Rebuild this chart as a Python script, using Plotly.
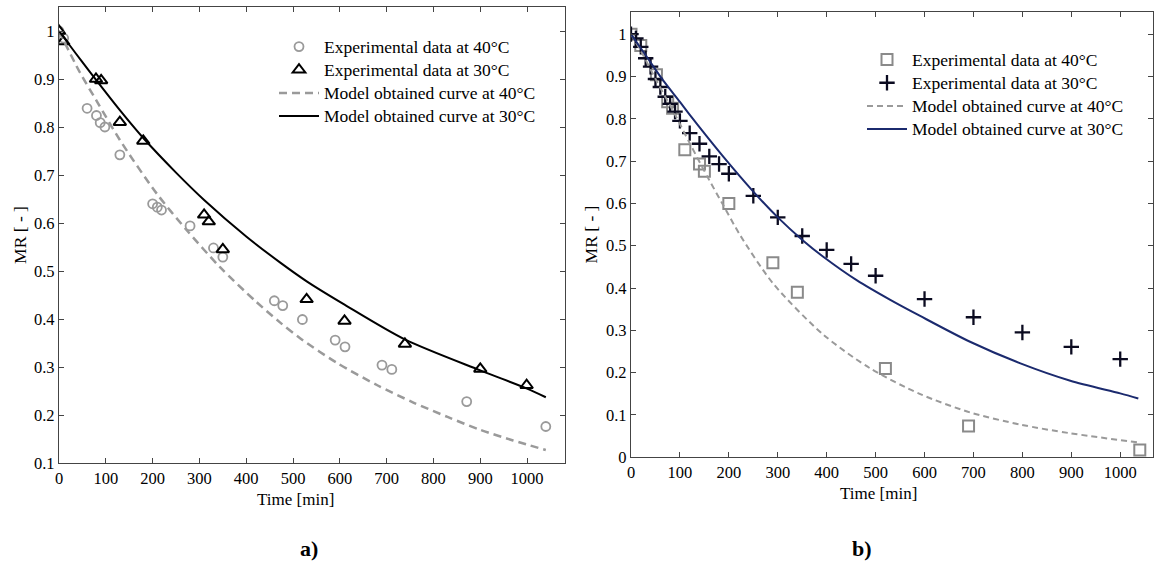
import plotly.graph_objects as go

# ---------------- Panel a) data ----------------
a_t40 = [0, 10, 60, 80, 88, 98, 130, 200, 210, 219, 280, 330, 350, 460, 478, 520, 590, 611, 690, 711, 871, 1040]
a_mr40 = [1.0, 0.985, 0.839, 0.824, 0.809, 0.80, 0.742, 0.64, 0.633, 0.627, 0.594, 0.548, 0.529, 0.438, 0.428,
          0.399, 0.356, 0.342, 0.304, 0.295, 0.228, 0.176]
a_t30 = [0, 9, 79, 90, 130, 180, 310, 320, 350, 529, 610, 739, 900, 999]
a_mr30 = [1.0, 0.978, 0.9, 0.897, 0.81, 0.771, 0.617, 0.603, 0.545, 0.441, 0.396, 0.348, 0.296, 0.262]
a_model40_t = [0, 45, 80, 130, 209, 273, 344, 420, 472, 515, 593, 680, 757, 830, 900, 970, 1040]
a_model40_mr = [1.0, 0.913, 0.855, 0.773, 0.661, 0.585, 0.508, 0.437, 0.393, 0.36, 0.309, 0.262, 0.226, 0.196,
                0.169, 0.147, 0.127]
a_model30_t = [0, 20, 50, 80, 130, 180, 250, 310, 400, 472, 530, 610, 740, 900, 1000, 1040]
a_model30_mr = [1.0, 0.974, 0.935, 0.897, 0.835, 0.777, 0.705, 0.648, 0.572, 0.518, 0.478, 0.43, 0.357,
                0.293, 0.255, 0.237]

# ---------------- Panel b) data ----------------
b_t40 = [0, 20, 52, 75, 85, 110, 140, 150, 200, 290, 340, 520, 690, 1040]
b_mr40 = [1.0, 0.973, 0.904, 0.84, 0.825, 0.727, 0.693, 0.676, 0.6, 0.46, 0.39, 0.21, 0.074, 0.017]
b_t30 = [0, 10, 20, 30, 40, 50, 60, 70, 80, 90, 100, 120, 140, 160, 180, 200, 250, 300, 350, 400, 450, 500,
         600, 700, 800, 900, 1000]
b_mr30 = [1.0, 0.99, 0.97, 0.943, 0.923, 0.894, 0.875, 0.852, 0.835, 0.817, 0.795, 0.766, 0.741, 0.711, 0.693,
          0.67, 0.618, 0.567, 0.523, 0.49, 0.457, 0.429, 0.374, 0.331, 0.295, 0.261, 0.232]
b_model40_t = [0, 25, 52, 90, 121, 160, 189, 223, 291, 393, 489, 590, 693, 797, 897, 1037]
b_model40_mr = [1.0, 0.95, 0.89, 0.81, 0.74, 0.655, 0.595, 0.525, 0.41, 0.29, 0.21, 0.15, 0.106, 0.077, 0.057, 0.035]
b_model30_t = [0, 30, 63, 100, 121, 189, 250, 300, 352, 393, 462, 530, 591, 693, 796, 898, 1000, 1037]
b_model30_mr = [1.0, 0.95, 0.895, 0.84, 0.808, 0.71, 0.628, 0.567, 0.512, 0.474, 0.418, 0.372, 0.334, 0.273,
                0.222, 0.181, 0.151, 0.139]

a_yticks = [0.1, 0.2, 0.3, 0.4, 0.5, 0.6, 0.7, 0.8, 0.9, 1.0]
a_yticktext = ["0.1", "0.2", "0.3", "0.4", "0.5", "0.6", "0.7", "0.8", "0.9", "1"]
b_yticks = [0, 0.1, 0.2, 0.3, 0.4, 0.5, 0.6, 0.7, 0.8, 0.9, 1.0]
b_yticktext = ["0", "0.1", "0.2", "0.3", "0.4", "0.5", "0.6", "0.7", "0.8", "0.9", "1"]
xticks = [0, 100, 200, 300, 400, 500, 600, 700, 800, 900, 1000]

labels = ["Experimental data at 40°C", "Experimental data at 30°C",
          "Model obtained curve at 40°C", "Model obtained curve at 30°C"]
x_title = "Time [min]"
y_title = "MR [ - ]"

FONT = "Liberation Serif, Times New Roman, serif"
W, H = 1157, 565
GRAY = "#9a9a9a"


def lab(s):
    return '<span style="font-size:17.5px">' + s + '</span>'


fig = go.Figure()

# Panel a
fig.add_trace(go.Scatter(x=a_t40, y=a_mr40, mode="markers", name=lab(labels[0]), legend="legend",
                         marker=dict(symbol="circle-open", size=9, color=GRAY, line=dict(width=1.8, color=GRAY)),
                         xaxis="x", yaxis="y"))
fig.add_trace(go.Scatter(x=a_t30, y=a_mr30, mode="markers", name=lab(labels[1]), legend="legend",
                         marker=dict(symbol="triangle-up-open", size=11, color="black",
                                     line=dict(width=2, color="black")),
                         xaxis="x", yaxis="y"))
fig.add_trace(go.Scatter(x=a_model40_t, y=a_model40_mr, mode="lines", name=lab(labels[2]), legend="legend",
                         line=dict(color=GRAY, width=2.5, dash="8px,5px", shape="spline", smoothing=0.8),
                         xaxis="x", yaxis="y"))
fig.add_trace(go.Scatter(x=a_model30_t, y=a_model30_mr, mode="lines", name=lab(labels[3]), legend="legend",
                         line=dict(color="black", width=2, shape="spline", smoothing=0.8),
                         xaxis="x", yaxis="y"))

# Panel b
fig.add_trace(go.Scatter(x=b_t40, y=b_mr40, mode="markers", name=lab(labels[0]), legend="legend2",
                         marker=dict(symbol="square-open", size=11, color="#8a8a8a",
                                     line=dict(width=2, color="#8a8a8a")),
                         xaxis="x2", yaxis="y2"))
fig.add_trace(go.Scatter(x=b_t30, y=b_mr30, mode="markers", name=lab(labels[1]), legend="legend2",
                         marker=dict(symbol="cross-thin-open", size=11, color="#0b0b20",
                                     line=dict(width=2.3, color="#0b0b20")),
                         xaxis="x2", yaxis="y2"))
fig.add_trace(go.Scatter(x=b_model40_t, y=b_model40_mr, mode="lines", name=lab(labels[2]), legend="legend2",
                         line=dict(color=GRAY, width=2, dash="6px,4px", shape="spline", smoothing=0.8),
                         xaxis="x2", yaxis="y2"))
fig.add_trace(go.Scatter(x=b_model30_t, y=b_model30_mr, mode="lines", name=lab(labels[3]), legend="legend2",
                         line=dict(color="#1b2a6e", width=2, shape="spline", smoothing=0.8),
                         xaxis="x2", yaxis="y2"))

axis_common = dict(showline=True, linecolor="#444", linewidth=1.2, mirror="allticks", ticks="inside",
                   ticklen=5, tickcolor="#444", showgrid=False, zeroline=False, automargin=False,
                   tickfont=dict(family=FONT, size=16.5, color="black"))

legend_common = dict(font=dict(family=FONT, size=15.5, color="black"), bgcolor="rgba(0,0,0,0)",
                     itemwidth=40, tracegroupgap=0, xanchor="left", yanchor="top")

fig.update_layout(
    width=W, height=H, margin=dict(l=0, r=0, t=0, b=0),
    paper_bgcolor="white", plot_bgcolor="white",
    font=dict(family=FONT, size=15, color="black"),
    xaxis=dict(domain=[59 / W, 565 / W], range=[0, 1081], tickvals=xticks, anchor="y", **axis_common),
    yaxis=dict(domain=[1 - 463 / H, 1 - 7 / H], range=[0.1, 1.05], tickvals=a_yticks, ticktext=a_yticktext,
               anchor="x", title=dict(text=y_title, font=dict(family=FONT, size=17.5), standoff=2),
               **axis_common),
    xaxis2=dict(domain=[631 / W, 1153 / W], range=[0, 1067], tickvals=xticks, anchor="y2", **axis_common),
    yaxis2=dict(domain=[1 - 457.3 / H, 1 - 11.7 / H], range=[0, 1.053], tickvals=b_yticks,
                ticktext=b_yticktext, anchor="x2",
                title=dict(text=y_title, font=dict(family=FONT, size=17.5), standoff=3),
                **axis_common),
    legend=dict(x=274 / W, y=1 - 30 / H, **legend_common),
    legend2=dict(x=862 / W, y=1 - 43 / H, **legend_common),
    showlegend=True,
    annotations=[
        dict(text=x_title, x=295 / W, y=1 - 499 / H, xref="paper", yref="paper", showarrow=False,
             font=dict(family=FONT, size=17, color="black"), xanchor="center", yanchor="middle"),
        dict(text=x_title, x=878 / W, y=1 - 493 / H, xref="paper", yref="paper", showarrow=False,
             font=dict(family=FONT, size=17, color="black"), xanchor="center", yanchor="middle"),
        dict(text="<b>a)</b>", x=309 / W, y=1 - 548 / H, xref="paper", yref="paper", showarrow=False,
             font=dict(family=FONT, size=22, color="black"), xanchor="center", yanchor="middle"),
        dict(text="<b>b)</b>", x=862 / W, y=1 - 548 / H, xref="paper", yref="paper", showarrow=False,
             font=dict(family=FONT, size=22, color="black"), xanchor="center", yanchor="middle"),
    ],
)

fig.write_html("out.html", config={"displayModeBar": False},
               post_script="document.body.style.margin='0px';")
